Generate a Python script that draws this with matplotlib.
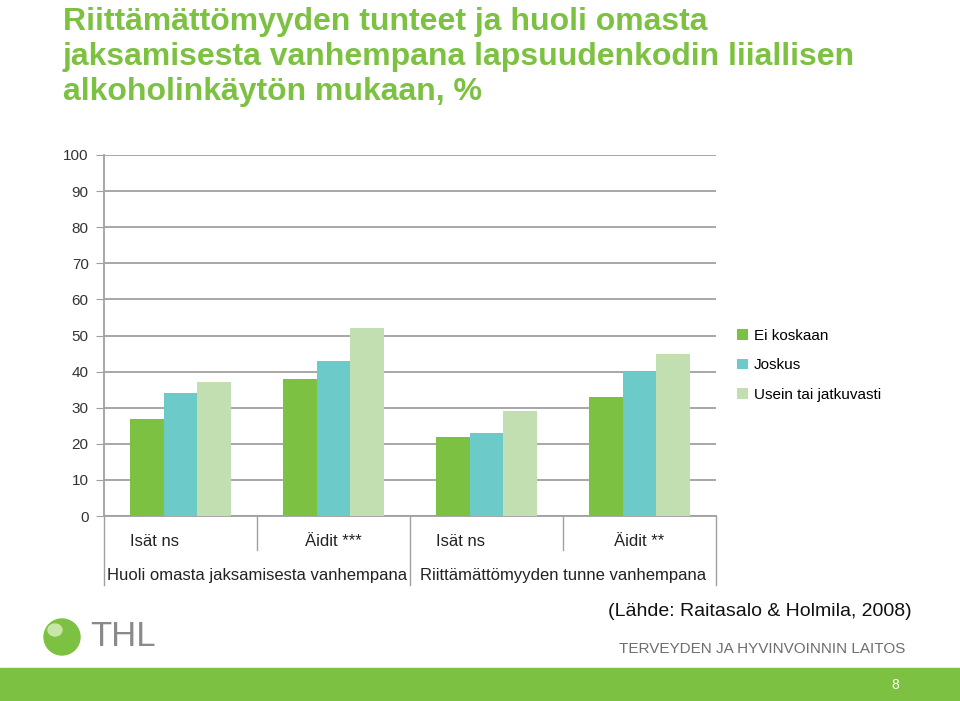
import matplotlib.pyplot as plt
from matplotlib.patches import Rectangle, Ellipse

plt.rcParams['font.family'] = ['Liberation Sans', 'DejaVu Sans']

# data
groups = ["Isät ns", "Äidit ***", "Isät ns", "Äidit **"]
outer = ["Huoli omasta jaksamisesta vanhempana", "Riittämättömyyden tunne vanhempana"]
series = ["Ei koskaan", "Joskus", "Usein tai jatkuvasti"]
ei_koskaan = [27, 38, 22, 33]
joskus = [34, 43, 23, 40]
usein = [37, 52, 29, 45]
colors = ["#7DC142", "#6CCBC8", "#C2DFB2"]

fig = plt.figure(figsize=(9.6, 7.01), dpi=100)
ax = fig.add_axes([104 / 960, 1 - 516 / 701, 612 / 960, 361 / 701])

w = 0.22
x = range(len(groups))
for k, vals in enumerate([ei_koskaan, joskus, usein]):
    ax.bar([i + (k - 1) * w for i in x], vals, width=w, color=colors[k],
           label=series[k], zorder=3)

ax.set_xlim(-0.5, 3.5)
ax.set_ylim(0, 100)
ax.set_yticks(range(0, 101, 10))
ax.tick_params(axis='y', labelsize=11, length=6, color='#A0A0A0', pad=5, labelcolor='#333333')
ax.set_xticks([])
ax.grid(axis='y', color='#A0A0A0', linewidth=1.3, zorder=0)
for s in ['top', 'right']:
    ax.spines[s].set_visible(False)
for s in ['left', 'bottom']:
    ax.spines[s].set_color('#A0A0A0')
    ax.spines[s].set_linewidth(1.3)

# two-level category axis
tr = ax.get_xaxis_transform()
for xv in [0.5, 2.5]:
    ax.plot([xv, xv], [0, -0.095], color='#A0A0A0', lw=1, transform=tr, clip_on=False)
for xv in [-0.5, 1.5, 3.5]:
    ax.plot([xv, xv], [0, -0.19], color='#A0A0A0', lw=1, transform=tr, clip_on=False)
for i, g in enumerate(groups):
    off = -0.17 if g.startswith("Isät") else 0
    ax.text(i + off, -0.07, g, transform=tr, ha='center', va='center',
            fontsize=12, color='#222222')
for j, o in enumerate(outer):
    ax.text(0.5 + 2 * j, -0.165, o, transform=tr, ha='center', va='center',
            fontsize=12, color='#222222')

# legend
ax.legend(loc='upper left', bbox_to_anchor=(1.025, 0.535), frameon=False,
          fontsize=11, handlelength=0.7, handleheight=0.7, handletextpad=0.4,
          labelspacing=1.0, borderaxespad=0)

# title
fig.text(63 / 960, 1 - 7 / 701,
         "Riittämättömyyden tunteet ja huoli omasta\njaksamisesta vanhempana lapsuudenkodin liiallisen\nalkoholinkäytön mukaan, %",
         ha='left', va='top', fontsize=23, fontweight='bold', color='#7DC142',
         linespacing=1.22)

fig.text(912 / 960, 1 - 611 / 701, "(Lähde: Raitasalo & Holmila, 2008)",
         ha='right', va='center', fontsize=14, color='#111111')
fig.text(905 / 960, 1 - 649 / 701, "TERVEYDEN JA HYVINVOINNIN LAITOS",
         ha='right', va='center', fontsize=11, color='#6E6E6E')

# logo
fig.patches.append(Ellipse((62 / 960, 1 - 637 / 701), 36 / 960, 36 / 701,
                           transform=fig.transFigure, color='#7DC142', zorder=2))
fig.patches.append(Ellipse((55 / 960, 1 - 630 / 701), 14 / 960, 12 / 701,
                           transform=fig.transFigure, color='#C8E6A8', zorder=3))
fig.text(90 / 960, 1 - 637 / 701, "THL", ha='left', va='center', fontsize=25,
         color='#8A8A8A')

# footer band
fig.patches.append(Rectangle((0, 0), 1, 33 / 701, transform=fig.transFigure,
                             color='#7DC142', zorder=1))
fig.text(895 / 960, 1 - 685 / 701, "8", ha='center', va='center', fontsize=10,
         color='white')

fig.savefig('out.png', dpi=100)
